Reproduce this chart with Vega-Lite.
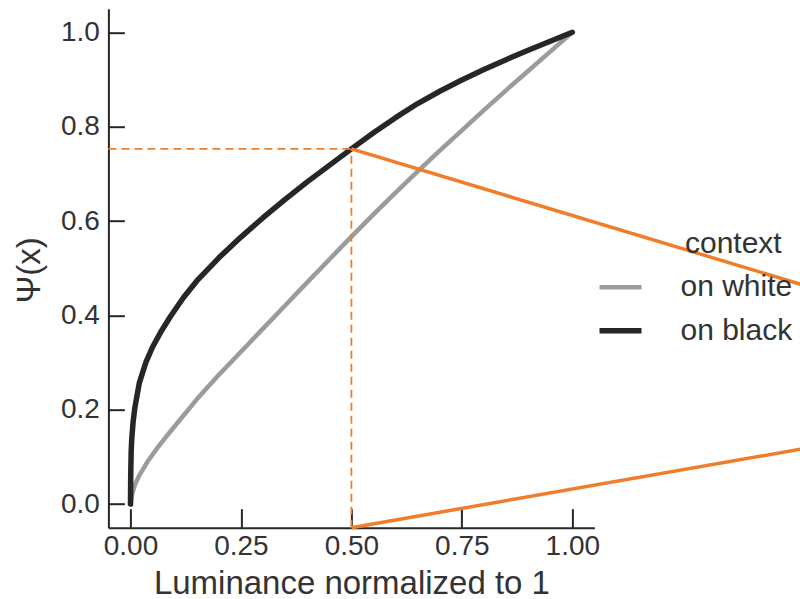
{
  "$schema": "https://vega.github.io/schema/vega-lite/v6.json",
  "width": 486,
  "height": 519,
  "autosize": {"type": "none"},
  "padding": {"left": 108.4, "top": 8.7, "right": 205.6, "bottom": 71.4},
  "background": "white",
  "config": {
    "font": "Liberation Sans",
    "view": {"stroke": null},
    "axis": {
      "grid": false,
      "domainColor": "#262626",
      "domainWidth": 2,
      "tickColor": "#262626",
      "tickWidth": 2,
      "labelColor": "#333333",
      "labelFontSize": 28,
      "titleColor": "#333333",
      "titleFontSize": 33,
      "titleFontWeight": "normal"
    },
    "legend": {
      "labelFontSize": 30,
      "labelColor": "#333333",
      "titleFontSize": 30,
      "titleFontWeight": "normal",
      "titleColor": "#333333"
    }
  },
  "datasets": {
    "curves": [
      {"x": 0, "psi": 0, "context": "on white"},
      {"x": 0.004, "psi": 0.022, "context": "on white"},
      {"x": 0.01, "psi": 0.041, "context": "on white"},
      {"x": 0.02, "psi": 0.061, "context": "on white"},
      {"x": 0.04, "psi": 0.092, "context": "on white"},
      {"x": 0.06, "psi": 0.118, "context": "on white"},
      {"x": 0.08, "psi": 0.142, "context": "on white"},
      {"x": 0.1, "psi": 0.165, "context": "on white"},
      {"x": 0.15, "psi": 0.222, "context": "on white"},
      {"x": 0.2, "psi": 0.274, "context": "on white"},
      {"x": 0.25, "psi": 0.323, "context": "on white"},
      {"x": 0.3, "psi": 0.372, "context": "on white"},
      {"x": 0.35, "psi": 0.421, "context": "on white"},
      {"x": 0.4, "psi": 0.47, "context": "on white"},
      {"x": 0.45, "psi": 0.5185, "context": "on white"},
      {"x": 0.5, "psi": 0.567, "context": "on white"},
      {"x": 0.55, "psi": 0.614, "context": "on white"},
      {"x": 0.6, "psi": 0.66, "context": "on white"},
      {"x": 0.65, "psi": 0.705, "context": "on white"},
      {"x": 0.7, "psi": 0.749, "context": "on white"},
      {"x": 0.75, "psi": 0.792, "context": "on white"},
      {"x": 0.8, "psi": 0.835, "context": "on white"},
      {"x": 0.85, "psi": 0.877, "context": "on white"},
      {"x": 0.9, "psi": 0.918, "context": "on white"},
      {"x": 0.95, "psi": 0.959, "context": "on white"},
      {"x": 1.0, "psi": 1.0, "context": "on white"},
      {"x": 0, "psi": 0, "context": "on black"},
      {"x": 0.0005, "psi": 0.06, "context": "on black"},
      {"x": 0.0015, "psi": 0.11, "context": "on black"},
      {"x": 0.003, "psi": 0.14, "context": "on black"},
      {"x": 0.006, "psi": 0.175, "context": "on black"},
      {"x": 0.01, "psi": 0.205, "context": "on black"},
      {"x": 0.02, "psi": 0.257, "context": "on black"},
      {"x": 0.035, "psi": 0.301, "context": "on black"},
      {"x": 0.05, "psi": 0.333, "context": "on black"},
      {"x": 0.07, "psi": 0.367, "context": "on black"},
      {"x": 0.09, "psi": 0.397, "context": "on black"},
      {"x": 0.12, "psi": 0.438, "context": "on black"},
      {"x": 0.15, "psi": 0.473, "context": "on black"},
      {"x": 0.2, "psi": 0.522, "context": "on black"},
      {"x": 0.25, "psi": 0.566, "context": "on black"},
      {"x": 0.3, "psi": 0.607, "context": "on black"},
      {"x": 0.35, "psi": 0.646, "context": "on black"},
      {"x": 0.4, "psi": 0.683, "context": "on black"},
      {"x": 0.45, "psi": 0.718, "context": "on black"},
      {"x": 0.5, "psi": 0.753, "context": "on black"},
      {"x": 0.55, "psi": 0.787, "context": "on black"},
      {"x": 0.6, "psi": 0.819, "context": "on black"},
      {"x": 0.65, "psi": 0.849, "context": "on black"},
      {"x": 0.7, "psi": 0.875, "context": "on black"},
      {"x": 0.75, "psi": 0.899, "context": "on black"},
      {"x": 0.8, "psi": 0.921, "context": "on black"},
      {"x": 0.85, "psi": 0.942, "context": "on black"},
      {"x": 0.9, "psi": 0.962, "context": "on black"},
      {"x": 0.95, "psi": 0.981, "context": "on black"},
      {"x": 1.0, "psi": 1.0, "context": "on black"}
    ],
    "guides": [
      {"seg": "h", "x": -0.05, "psi": 0.753},
      {"seg": "h", "x": 0.5, "psi": 0.753},
      {"seg": "v", "x": 0.5, "psi": -0.05},
      {"seg": "v", "x": 0.5, "psi": 0.753}
    ],
    "connectors": [
      {"seg": "top", "x": 0.5, "psi": 0.753},
      {"seg": "top", "x": 1.52, "psi": 0.465},
      {"seg": "bottom", "x": 0.5, "psi": -0.05},
      {"seg": "bottom", "x": 1.52, "psi": 0.117}
    ]
  },
  "resolve": {"axis": {"x": "independent", "y": "independent"}},
  "layer": [
    {
      "data": {"name": "curves"},
      "mark": {"type": "line", "strokeCap": "round", "strokeJoin": "round", "clip": false},
      "encoding": {
        "x": {
          "field": "x",
          "type": "quantitative",
          "scale": {"domain": [-0.05, 1.05], "nice": false, "zero": false},
          "axis": {
            "orient": "bottom",
            "title": "Luminance normalized to 1",
            "values": [0, 0.25, 0.5, 0.75, 1],
            "format": ".2f",
            "ticks": false,
            "labelPadding": 5,
            "titleY": 66,
            "titleBaseline": "alphabetic"
          }
        },
        "y": {
          "field": "psi",
          "type": "quantitative",
          "scale": {"domain": [-0.05, 1.05], "nice": false, "zero": false},
          "axis": {
            "orient": "left",
            "title": "Ψ(x)",
            "values": [0, 0.2, 0.4, 0.6, 0.8, 1],
            "format": ".1f",
            "ticks": false,
            "labelPadding": 9,
            "titleX": -69,
            "titleY": 261,
            "titleAngle": -90,
            "titleAlign": "center",
            "titleBaseline": "alphabetic"
          }
        },
        "color": {
          "field": "context",
          "type": "nominal",
          "scale": {"domain": ["on white", "on black"], "range": ["#9b9b9b", "#262626"]},
          "legend": {
            "title": "context",
            "orient": "none",
            "legendX": 576.6,
            "legendY": 220.6,
            "padding": 0,
            "symbolType": "stroke",
            "symbolSize": 1764,
            "symbolStrokeWidth": 4,
            "symbolOffset": -88.5,
            "labelOffset": 36,
            "titlePadding": 4.5,
            "rowPadding": 4,
            "titleAnchor": "start"
          }
        },
        "strokeWidth": {
          "field": "context",
          "type": "nominal",
          "scale": {"domain": ["on white", "on black"], "range": [4.5, 5.5]},
          "legend": null
        }
      }
    },
    {
      "data": {"name": "guides"},
      "mark": {"type": "line", "color": "#ef7d2b", "strokeWidth": 1.8, "strokeDash": [8, 5], "clip": false},
      "encoding": {
        "x": {"field": "x", "type": "quantitative", "axis": null},
        "y": {"field": "psi", "type": "quantitative", "axis": null},
        "detail": {"field": "seg", "type": "nominal"}
      }
    },
    {
      "data": {"name": "connectors"},
      "mark": {"type": "line", "color": "#ef7d2b", "strokeWidth": 3.5, "clip": false},
      "encoding": {
        "x": {
          "field": "x",
          "type": "quantitative",
          "axis": {
            "orient": "bottom",
            "offset": -19,
            "values": [0, 0.25, 0.5, 0.75, 1],
            "domain": false,
            "labels": false,
            "ticks": true,
            "tickSize": 19,
            "title": null
          }
        },
        "y": {
          "field": "psi",
          "type": "quantitative",
          "axis": {
            "orient": "left",
            "offset": -16,
            "values": [0, 0.2, 0.4, 0.6, 0.8, 1],
            "domain": false,
            "labels": false,
            "ticks": true,
            "tickSize": 16,
            "title": null
          }
        },
        "detail": {"field": "seg", "type": "nominal"}
      }
    }
  ]
}
